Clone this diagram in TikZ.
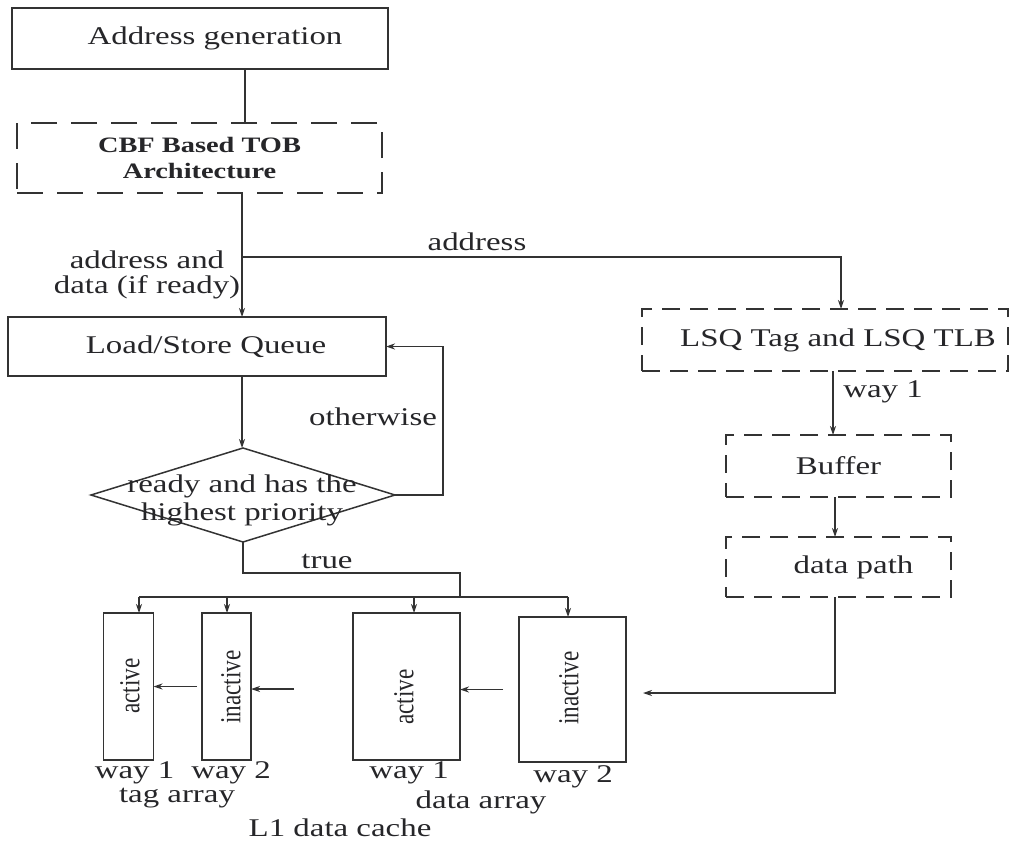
\documentclass[tikz,border=0pt]{standalone}
\usepackage{fontspec}
\setmainfont{Liberation Serif}[FakeStretch=1.29]
\newfontfamily\rotfont{Liberation Serif}[FakeStretch=0.8]
\usetikzlibrary{arrows.meta,shapes.geometric,calc}
\definecolor{ink}{HTML}{333333}
\definecolor{txt}{HTML}{262629}
\begin{document}
\begin{tikzpicture}[x=1pt,y=-1pt,
  every node/.style={font=\fontsize{25.5}{27}\selectfont, text=txt, inner sep=0pt, outer sep=0pt},
  solidbox/.style={draw=ink, line width=2pt, rectangle},
  dashbox/.style={draw=ink, line width=1.6pt, dash pattern=on 18pt off 10pt, rectangle},
  conn/.style={draw=ink, line width=1.5pt},
  arr/.style={conn, -{Stealth[length=9pt,width=6pt]}},
  rot/.style={rotate=90, font=\rotfont\fontsize{29}{30}\selectfont}]
\useasboundingbox (0,0) rectangle (1009,843);

% top column
\node[solidbox, minimum width=376pt, minimum height=61pt] (addr) at (200,38.5) {\hspace*{30pt}Address generation};
\node[dashbox, dash pattern=on 26pt off 14pt, minimum width=365pt, minimum height=70pt, align=center,
      font=\bfseries\fontsize{22}{26}\selectfont] (cbf) at (199.5,158) {CBF Based TOB\\Architecture};
\node[solidbox, minimum width=378pt, minimum height=59pt] (lsq) at (197,346.5) {\hspace*{18pt}Load/Store Queue};
\node[diamond, draw=ink, line width=1.5pt, minimum width=304pt, minimum height=94pt] (dec) at (243,495) {};
\node[align=center, font=\fontsize{25.5}{28}\selectfont] (dectext) at (242,500) {ready and has the\\highest priority};

% right column
\node[dashbox, minimum width=366pt, minimum height=62pt] (tag) at (825,340) {\hspace*{26pt}LSQ Tag and LSQ TLB};
\node[dashbox, minimum width=225pt, minimum height=62pt] (buf) at (838.5,466) {Buffer};
\node[dashbox, minimum width=225pt, minimum height=60pt] (dp) at (838.5,567) {\hspace*{30pt}data path};

% bottom row boxes
\node[solidbox, line width=1.8pt, minimum width=50pt, minimum height=147pt] (atag) at (128.5,686.5) {};
\node[solidbox, line width=1.8pt, minimum width=49pt, minimum height=147pt] (itag) at (226.5,686.5) {};
\node[solidbox, line width=1.8pt, minimum width=107pt, minimum height=147pt] (adata) at (406.5,686.5) {};
\node[solidbox, line width=1.8pt, minimum width=107pt, minimum height=145pt] (idata) at (572.5,689.5) {};
\node[rot] (atagtxt) at (130,686) {active};
\node[rot] (itagtxt) at (231,687) {inactive};
\node[rot] (adatatxt) at (404,697) {active};
\node[rot] (idatatxt) at (569,688) {inactive};

% labels
\node (addrlbl) at (477,242) {address};
\node[align=center, font=\fontsize{25.5}{25.5}\selectfont] (adlbl) at (147,275) {address and\\data (if ready)};
\node (oth) at (373,417) {otherwise};
\node (truelbl) at (327,561) {true};
\node (way1lbl) at (883,392) {way 1};
\node (w1t) at (134.5,773) {way 1};
\node (w2t) at (231,773) {way 2};
\node (tagarr) at (177,798) {tag array};
\node (w1d) at (409,773) {way 1};
\node (w2d) at (573,777) {way 2};
\node (datarr) at (481,802) {data array};
\node (l1) at (340,828) {L1 data cache};

% coordinates
\coordinate (xa) at (245,0);
\coordinate (xb) at (242,0);
\coordinate (j1) at (242,257);
\coordinate (xc) at (841,0);
\coordinate (xo) at (443,0);
\coordinate (t1) at (460,573);
\coordinate (t2) at (460,597);
\coordinate (busL) at (139,597);
\coordinate (b2) at (227,597);
\coordinate (b3) at (414,597);
\coordinate (busR) at (568,597);
\coordinate (free) at (294,689);
\coordinate (xd) at (833,0);
\coordinate (xe) at (835,0);

% connectors
\draw[conn] (addr.south -| xa) -- (cbf.north -| xa);
\draw[conn] (cbf.south -| xb) -- (j1);
\draw[arr] (j1) -- (lsq.north -| xb);
\draw[arr] (j1) -| (tag.north -| xc);
\draw[arr] (lsq.south -| xb) -- (dec.north -| xb);
\draw[arr] (dec.east) -- (dec.east -| xo) -- (xo |- lsq.east) -- (lsq.east);
\draw[conn] (dec.south) |- (t1) -- (t2);
\draw[conn] (busL) -- (busR);
\draw[arr] (busL) -- (atag.north -| busL);
\draw[arr] (b2) -- (itag.north -| b2);
\draw[arr] (b3) -- (adata.north -| b3);
\draw[arr] (busR) -- (idata.north -| busR);
\draw[arr, shorten <=5pt] (itag.west) -- (atag.east);
\draw[arr] (free) -- (itag.east |- free);
\draw[arr, shorten <=16pt] (idata.west) -- (adata.east |- idata.west);
\draw[arr] (tag.south -| xd) -- (buf.north -| xd);
\draw[arr] (buf.south -| xe) -- (dp.north -| xe);
\draw[arr, shorten >=17pt] (dp.south -| xe) |- ($(idata.east)+(0,3.5)$);
\end{tikzpicture}
\end{document}
